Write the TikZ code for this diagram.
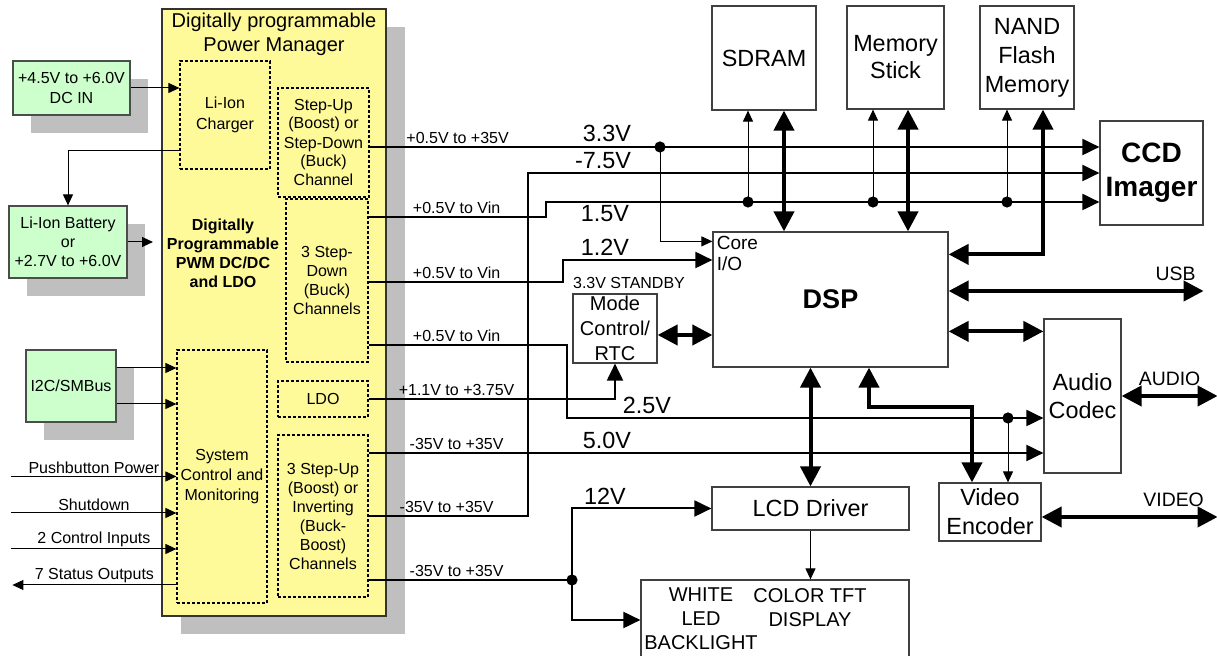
\documentclass[tikz,border=0pt]{standalone}
\usepackage{fontspec}
\setmainfont{Liberation Sans}
\usetikzlibrary{arrows.meta, positioning, shadows}

\begin{document}
\begin{tikzpicture}[
	  x=0.5pt, y=-0.5pt,
	  pwrbox/.style={rectangle, draw=black!80, line width=1pt, fill=yellow!40, drop shadow={shadow xshift=9.5pt, shadow yshift=-9pt, fill=black!25, opacity=1}},
	  srcbox/.style={rectangle, draw=black!70, line width=0.6pt, fill=green!20, align=center, inner sep=0pt, font=\fontsize{8}{9.75}\selectfont, drop shadow={shadow xshift=9pt, shadow yshift=-9pt, fill=black!25, opacity=1}},
	  subbox/.style={rectangle, draw=black, line width=0.6pt, dash pattern=on 1.5pt off 1pt, align=center, inner sep=0pt, font=\fontsize{8}{9.5}\selectfont},
	  blk/.style={rectangle, draw=black!75, line width=0.6pt, fill=white, align=center, inner sep=0pt, font=\fontsize{11.7}{14}\selectfont},
	  lbl/.style={inner sep=1pt, font=\fontsize{8}{9.5}\selectfont},
	  vlbl/.style={inner sep=0pt, font=\fontsize{11.7}{14}\selectfont},
	  sig/.style={line width=0.5pt, >={Triangle[length=5.5pt, width=5pt]}},
	  rail/.style={line width=1pt, >={Triangle[length=8.5pt, width=8pt]}},
	  bus/.style={line width=2pt, <->, >={Triangle[length=10pt, width=10pt]}}
	]
	\useasboundingbox (0,0) rectangle (1217,656);

	% power manager
	\node (pm) [pwrbox, minimum width=112pt, minimum height=303.5pt] at (274,312.5) {};
	\node (pmtitle) [align=center, font=\fontsize{10}{12}\selectfont] at (274,34) {Digitally programmable\\Power Manager};
	\node (charger) [subbox, minimum width=45pt, minimum height=54pt, font=\fontsize{8}{10.5}\selectfont] at (225,115) {Li-Ion\\Charger};
	\node (stepup1) [subbox, minimum width=45.5pt, minimum height=54.5pt] at (323.5,142.5) {Step-Up\\(Boost) or\\Step-Down\\(Buck)\\Channel};
	\node (stepdown) [subbox, minimum width=41pt, minimum height=81.5pt] at (327,280.5) {3 Step-\\Down\\(Buck)\\Channels};
	\node (ldo) [subbox, minimum width=45pt, minimum height=18pt] at (323,399) {LDO};
	\node (stepup3) [subbox, minimum width=45pt, minimum height=81pt] at (323,516) {3 Step-Up\\(Boost) or\\Inverting\\(Buck-\\Boost)\\Channels};
	\node (sysctl) [subbox, minimum width=45pt, minimum height=126.5pt, font=\fontsize{8}{10}\selectfont] at (222,476.5) {System\\Control and\\Monitoring};
	\node (pwmtxt) [align=center, font=\bfseries\fontsize{8}{9.5}\selectfont] at (223,253) {Digitally\\Programmable\\PWM DC/DC\\and LDO};

	% sources
	\node (dcin) [srcbox, minimum width=58.5pt, minimum height=27pt] at (71.5,88) {+4.5V to +6.0V\\DC IN};
	\node (batt) [srcbox, minimum width=59pt, minimum height=36pt, font=\fontsize{8}{9.5}\selectfont] at (68,242) {Li-Ion Battery\\or\\+2.7V to +6.0V};
	\node (i2c) [srcbox, minimum width=45pt, minimum height=36pt] at (71,386) {I2C/SMBus};

	% system blocks
	\node (sdram) [blk, minimum width=52pt, minimum height=52pt] at (764,58) {SDRAM};
	\node (mstick) [blk, minimum width=48.5pt, minimum height=51.5pt, font=\fontsize{11.7}{13.5}\selectfont] at (895.5,57.5) {Memory\\Stick};
	\node (nand) [blk, minimum width=47pt, minimum height=51.5pt, font=\fontsize{11.7}{14.5}\selectfont] at (1027,57.5) {NAND\\Flash\\Memory};
	\node (ccd) [blk, minimum width=51.5pt, minimum height=52pt, font=\bfseries\fontsize{14}{17}\selectfont] at (1151.5,173) {CCD\\Imager};
	\node (dsp) [blk, minimum width=117.5pt, minimum height=67.5pt, font=\bfseries\fontsize{13.5}{16}\selectfont] at (830.5,299.5) {DSP};
	\node (coreio) [anchor=north west, align=left, inner sep=2pt, font=\fontsize{9.5}{10.5}\selectfont] at (dsp.north west) {Core\\I/O};
	\node (mode) [blk, minimum width=42pt, minimum height=34.5pt, font=\fontsize{10}{12.5}\selectfont] at (615,328.5) {Mode\\Control/\\RTC};
	\node (stby) [above=2pt of mode, xshift=7pt, inner sep=0pt, font=\fontsize{8}{9.5}\selectfont] {3.3V STANDBY};
	\node (codec) [blk, minimum width=38.5pt, minimum height=77pt, font=\fontsize{11.7}{14}\selectfont] at (1082.5,396) {Audio\\Codec};
	\node (venc) [blk, minimum width=51pt, minimum height=29pt, font=\fontsize{11.7}{14.5}\selectfont] at (990,512) {Video\\Encoder};
	\node (lcd) [blk, minimum width=98.5pt, minimum height=21.5pt] at (810.5,508.5) {LCD Driver};
	\node (disp) [blk, minimum width=134pt, minimum height=40pt] at (775,620) {};
	\node (displed) [align=center, font=\fontsize{10}{12}\selectfont] at (701,619) {WHITE\\LED\\BACKLIGHT};
	\node (disptft) [align=center, font=\fontsize{10}{12}\selectfont] at (810,607.5) {COLOR TFT\\DISPLAY};

	% junctions and bends
	\coordinate (j33) at (660,147);
	\coordinate (js1) at (748,202);
	\coordinate (js2) at (873,202);
	\coordinate (js3) at (1007,202);
	\coordinate (j25) at (1008,418);
	\coordinate (j12) at (572,580);
	\coordinate (b75) at (528,173);
	\coordinate (b15) at (546,202);
	\coordinate (b12) at (563,260);
	\coordinate (b25) at (567,418);
	\coordinate (bvid) at (972,407);

	% inputs and outputs of the power manager
	\draw [sig, ->] (dcin.east) -- (dcin.east -| charger.west);
	\draw [sig, ->] ([yshift=-18pt]charger.west) -| (batt.north);
	\draw [sig, ->, shorten >=4pt] (batt.east) -- (batt.east -| pm.west);
	\draw [sig, ->] ([yshift=9pt]i2c.east) -- ([yshift=9pt]i2c.east -| sysctl.west);
	\draw [sig, ->] ([yshift=-9pt]i2c.east) -- ([yshift=-9pt]i2c.east -| sysctl.west);
	\draw [sig, <-] (sysctl.west) -- node[lbl, above] {Pushbutton Power} ++(-165,0);
	\draw [sig, <-] ([yshift=-18.25pt]sysctl.west) -- node[lbl, above] {Shutdown} ++(-165,0);
	\draw [sig, <-] ([yshift=-36.25pt]sysctl.west) -- node[lbl, above] {2 Control Inputs} ++(-165,0);
	\draw [sig, ->] ([yshift=-54.25pt]sysctl.west) -- node[lbl, above] {7 Status Outputs} ++(-164,0);

	% supply rails
	\draw [rail, ->] ([yshift=-2.25pt]stepup1.east) -- node[lbl, at start, anchor=south, xshift=44pt] {+0.5V to +35V} ([yshift=-2.25pt]stepup1.east -| ccd.west);
	\draw [rail, ->] (stepup3.east) -| node[lbl, at start, anchor=south, xshift=39pt] {-35V to +35V} (b75) -- (ccd.west);
	\draw [rail, ->] ([yshift=31.75pt]stepdown.east) -| node[lbl, at start, anchor=south, xshift=44pt] {+0.5V to Vin} (b15) -- (b15 -| ccd.west);
	\draw [rail, ->] ([yshift=-0.75pt]stepdown.east) -| node[lbl, at start, anchor=south, xshift=44pt] {+0.5V to Vin} (b12) -- (b12 -| dsp.west);
	\draw [rail, ->] ([yshift=-32.25pt]stepdown.east) -| node[lbl, at start, anchor=south, xshift=44pt] {+0.5V to Vin} (b25) -- (b25 -| codec.west);
	\draw [rail, ->] (ldo.east) -| node[lbl, at start, anchor=south, xshift=44pt] {+1.1V to +3.75V} (mode.south);
	\draw [rail, ->] ([yshift=31.5pt]stepup3.east) -- node[lbl, at start, anchor=south, xshift=44pt] {-35V to +35V} ([yshift=31.5pt]stepup3.east -| codec.west);
	\draw [rail] ([yshift=-32pt]stepup3.east) -- node[lbl, at start, anchor=south, xshift=44pt] {-35V to +35V} (j12);
	\draw [rail, ->] (j12) |- (lcd.west);
	\draw [rail, ->] (j12) |- (disp.west);

	% taps
	\draw [sig, ->] (j33) |- ([yshift=-5pt]dsp.north west);
	\draw [sig, ->] (js1) -- (js1 |- sdram.south);
	\draw [sig, ->] (js2) -- (js2 |- mstick.south);
	\draw [sig, ->] (js3) -- (js3 |- nand.south);
	\draw [sig, ->] (j25) -- (j25 |- venc.north);
	\draw [sig, ->] (lcd.south) -- (lcd.south |- disp.north);

	% rail voltages
	\node [vlbl] at (607,133.5) {3.3V};
	\node [vlbl] at (603,161) {-7.5V};
	\node [vlbl] at (605,213.5) {1.5V};
	\node [vlbl] at (605,247) {1.2V};
	\node [vlbl] at (647,405) {2.5V};
	\node [vlbl] at (607,440) {5.0V};
	\node [vlbl] at (605,496) {12V};

	% data buses
	\draw [bus] ([xshift=10pt]sdram.south) -- ([xshift=10pt]sdram.south |- dsp.north);
	\draw [bus] ([xshift=6.25pt]mstick.south) -- ([xshift=6.25pt]mstick.south |- dsp.north);
	\draw [bus] ([xshift=8pt]nand.south) |- ([yshift=-11.5pt]dsp.north east);
	\draw [bus] ([yshift=4.25pt]dsp.east) -- ++(255,0) node[lbl, anchor=south east, xshift=-2pt, yshift=3pt, font=\fontsize{9.7}{11}\selectfont] {USB};
	\draw [bus] ([yshift=-6.5pt]codec.north west) -- ([yshift=-6.5pt]codec.north west -| dsp.east);
	\draw [bus] (codec.east) -- node[lbl, above=3pt, font=\fontsize{9.7}{11}\selectfont] {AUDIO} ++(96,0);
	\draw [bus] ([yshift=-2.5pt]venc.east) -- node[lbl, pos=0.75, above=3pt, font=\fontsize{9.7}{11}\selectfont] {VIDEO} ++(176,0);
	\draw [bus] ([yshift=-3.25pt]mode.east) -- ([yshift=-3.25pt]mode.east -| dsp.west);
	\draw [bus] (lcd.north |- dsp.south) -- (lcd.north);
	\draw [bus] ([xshift=19.25pt]dsp.south) |- (bvid) -- ([xshift=-9pt]venc.north);

	\foreach \j in {j33, js1, js2, js3, j25, j12}
	  \fill (\j) circle (2.8pt);

	\end{tikzpicture}
\end{document}
